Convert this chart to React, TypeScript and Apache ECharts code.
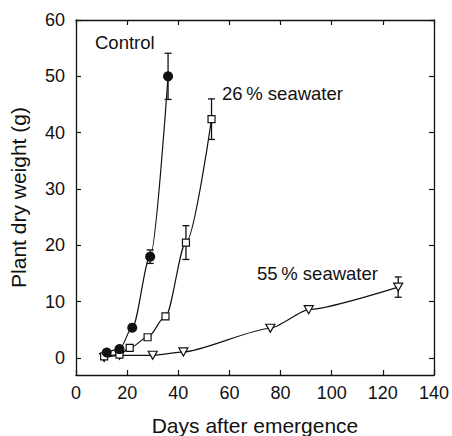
import React, { useEffect, useRef } from "react";
import * as echarts from "echarts";

// Plant dry weight (g) vs. days after emergence
const controlDays = [12, 17, 22, 29, 36];
const controlWeight = [1.0, 1.6, 5.4, 18.0, 50.0];
const controlErr = [0, 0, 0, 1.2, 4.1];

const sw26Days = [11, 17, 21, 28, 35, 43, 53];
const sw26Weight = [0.3, 0.6, 1.8, 3.7, 7.4, 20.5, 42.4];
const sw26Err = [0, 0, 0, 0, 0, 3.0, 3.6];

const sw55Days = [11, 17, 30, 42, 76, 91, 126];
const sw55Weight = [0.1, 0.5, 0.5, 1.1, 5.3, 8.6, 12.6];
const sw55Err = [0, 0, 0, 0, 0, 0, 1.8];

const yTicks = [0, 10, 20, 30, 40, 50, 60];

const FONT = "'Liberation Sans', Arial, Helvetica, sans-serif";
const INK = "#111";

const pairs = (xs: number[], ys: number[]) => xs.map((x, i) => [x, ys[i]]);
const errRows = (xs: number[], ys: number[], es: number[]) =>
  xs
    .map((x, i) => [x, ys[i] - es[i], ys[i] + es[i]])
    .filter((_, i) => es[i] > 0);

const errorBarSeries = (rows: number[][]) => ({
  type: "custom",
  data: rows,
  z: 1,
  renderItem: (_params: any, api: any) => {
    const x = api.value(0);
    const lo = api.coord([x, api.value(1)]);
    const hi = api.coord([x, api.value(2)]);
    const cap = 3.5;
    const style = { stroke: INK, lineWidth: 1.3 };
    return {
      type: "group",
      children: [
        { type: "line", shape: { x1: lo[0], y1: lo[1], x2: hi[0], y2: hi[1] }, style },
        { type: "line", shape: { x1: lo[0] - cap, y1: lo[1], x2: lo[0] + cap, y2: lo[1] }, style },
        { type: "line", shape: { x1: hi[0] - cap, y1: hi[1], x2: hi[0] + cap, y2: hi[1] }, style },
      ],
    };
  },
});

const annotation = (text: string, left: number, midY: number) => ({
  type: "text",
  left,
  top: midY - 9.5,
  style: { text, fill: INK, fontSize: 18.5, fontFamily: FONT },
});

export default function App() {
  const ref = useRef<HTMLDivElement>(null);

  useEffect(() => {
    if (!ref.current) return;
    const chart = echarts.init(ref.current, undefined, { renderer: "svg" });

    const axisLine = { show: true, onZero: false, lineStyle: { color: INK, width: 1.3 } };
    const tickStyle = { inside: true, length: 5, lineStyle: { color: INK, width: 1.2 } };

    chart.setOption({
      animation: false,
      backgroundColor: "#fff",
      grid: {
        left: 76,
        right: 18,
        top: 20,
        bottom: 61,
        containLabel: false,
        outerBoundsMode: "none",
      },
      xAxis: [
        {
          type: "value",
          min: 0,
          max: 140,
          interval: 20,
          position: "bottom",
          axisLine,
          axisTick: { show: true, ...tickStyle },
          splitLine: { show: false },
          axisLabel: { color: INK, fontSize: 18, fontFamily: FONT, margin: 9 },
          name: "Days after emergence",
          nameLocation: "middle",
          nameGap: 40,
          nameTextStyle: { color: INK, fontSize: 21, fontFamily: FONT },
        },
        {
          type: "value",
          min: 0,
          max: 140,
          interval: 20,
          position: "top",
          axisLine,
          axisTick: { show: true, ...tickStyle },
          splitLine: { show: false },
          axisLabel: { show: false },
        },
      ],
      yAxis: [
        {
          type: "value",
          min: -3,
          max: 60,
          position: "left",
          axisLine,
          axisTick: { show: true, ...tickStyle, customValues: yTicks },
          splitLine: { show: false },
          axisLabel: {
            color: INK,
            fontSize: 18,
            fontFamily: FONT,
            margin: 11,
            customValues: yTicks,
          },
          name: "Plant dry weight (g)",
          nameLocation: "middle",
          nameGap: 47,
          nameTextStyle: { color: INK, fontSize: 21, fontFamily: FONT },
        },
        {
          type: "value",
          min: -3,
          max: 60,
          position: "right",
          axisLine,
          axisTick: { show: true, ...tickStyle, customValues: yTicks },
          splitLine: { show: false },
          axisLabel: { show: false, customValues: yTicks },
        },
      ],
      series: [
        errorBarSeries(errRows(controlDays, controlWeight, controlErr)),
        errorBarSeries(errRows(sw26Days, sw26Weight, sw26Err)),
        errorBarSeries(errRows(sw55Days, sw55Weight, sw55Err)),
        {
          name: "55 % seawater",
          type: "line",
          data: pairs(sw55Days, sw55Weight),
          smooth: 0.2,
          smoothMonotone: "x",
          symbol: "path://M0,0 L10,0 L5,9 Z",
          symbolSize: [9, 8],
          showAllSymbol: true,
          lineStyle: { color: INK, width: 1.2 },
          itemStyle: { color: "#fff", borderColor: INK, borderWidth: 1.2 },
          z: 2,
        },
        {
          name: "26 % seawater",
          type: "line",
          data: pairs(sw26Days, sw26Weight),
          smooth: 0.3,
          smoothMonotone: "x",
          symbol: "rect",
          symbolSize: 7,
          showAllSymbol: true,
          lineStyle: { color: INK, width: 1.2 },
          itemStyle: { color: "#fff", borderColor: INK, borderWidth: 1.2 },
          z: 3,
        },
        {
          name: "Control",
          type: "line",
          data: pairs(controlDays, controlWeight),
          smooth: 0.3,
          smoothMonotone: "x",
          symbol: "circle",
          symbolSize: 10,
          showAllSymbol: true,
          lineStyle: { color: INK, width: 1.2 },
          itemStyle: { color: INK, borderColor: INK, borderWidth: 0 },
          z: 4,
        },
      ],
      graphic: [
        annotation("Control", 95, 42),
        annotation("26\u2009% seawater", 222, 93.5),
        annotation("55\u2009% seawater", 257, 273.5),
      ],
    });

    return () => chart.dispose();
  }, []);

  return (
    <div
      ref={ref}
      style={{ position: "fixed", left: 0, top: 0, width: 452, height: 436 }}
    />
  );
}
